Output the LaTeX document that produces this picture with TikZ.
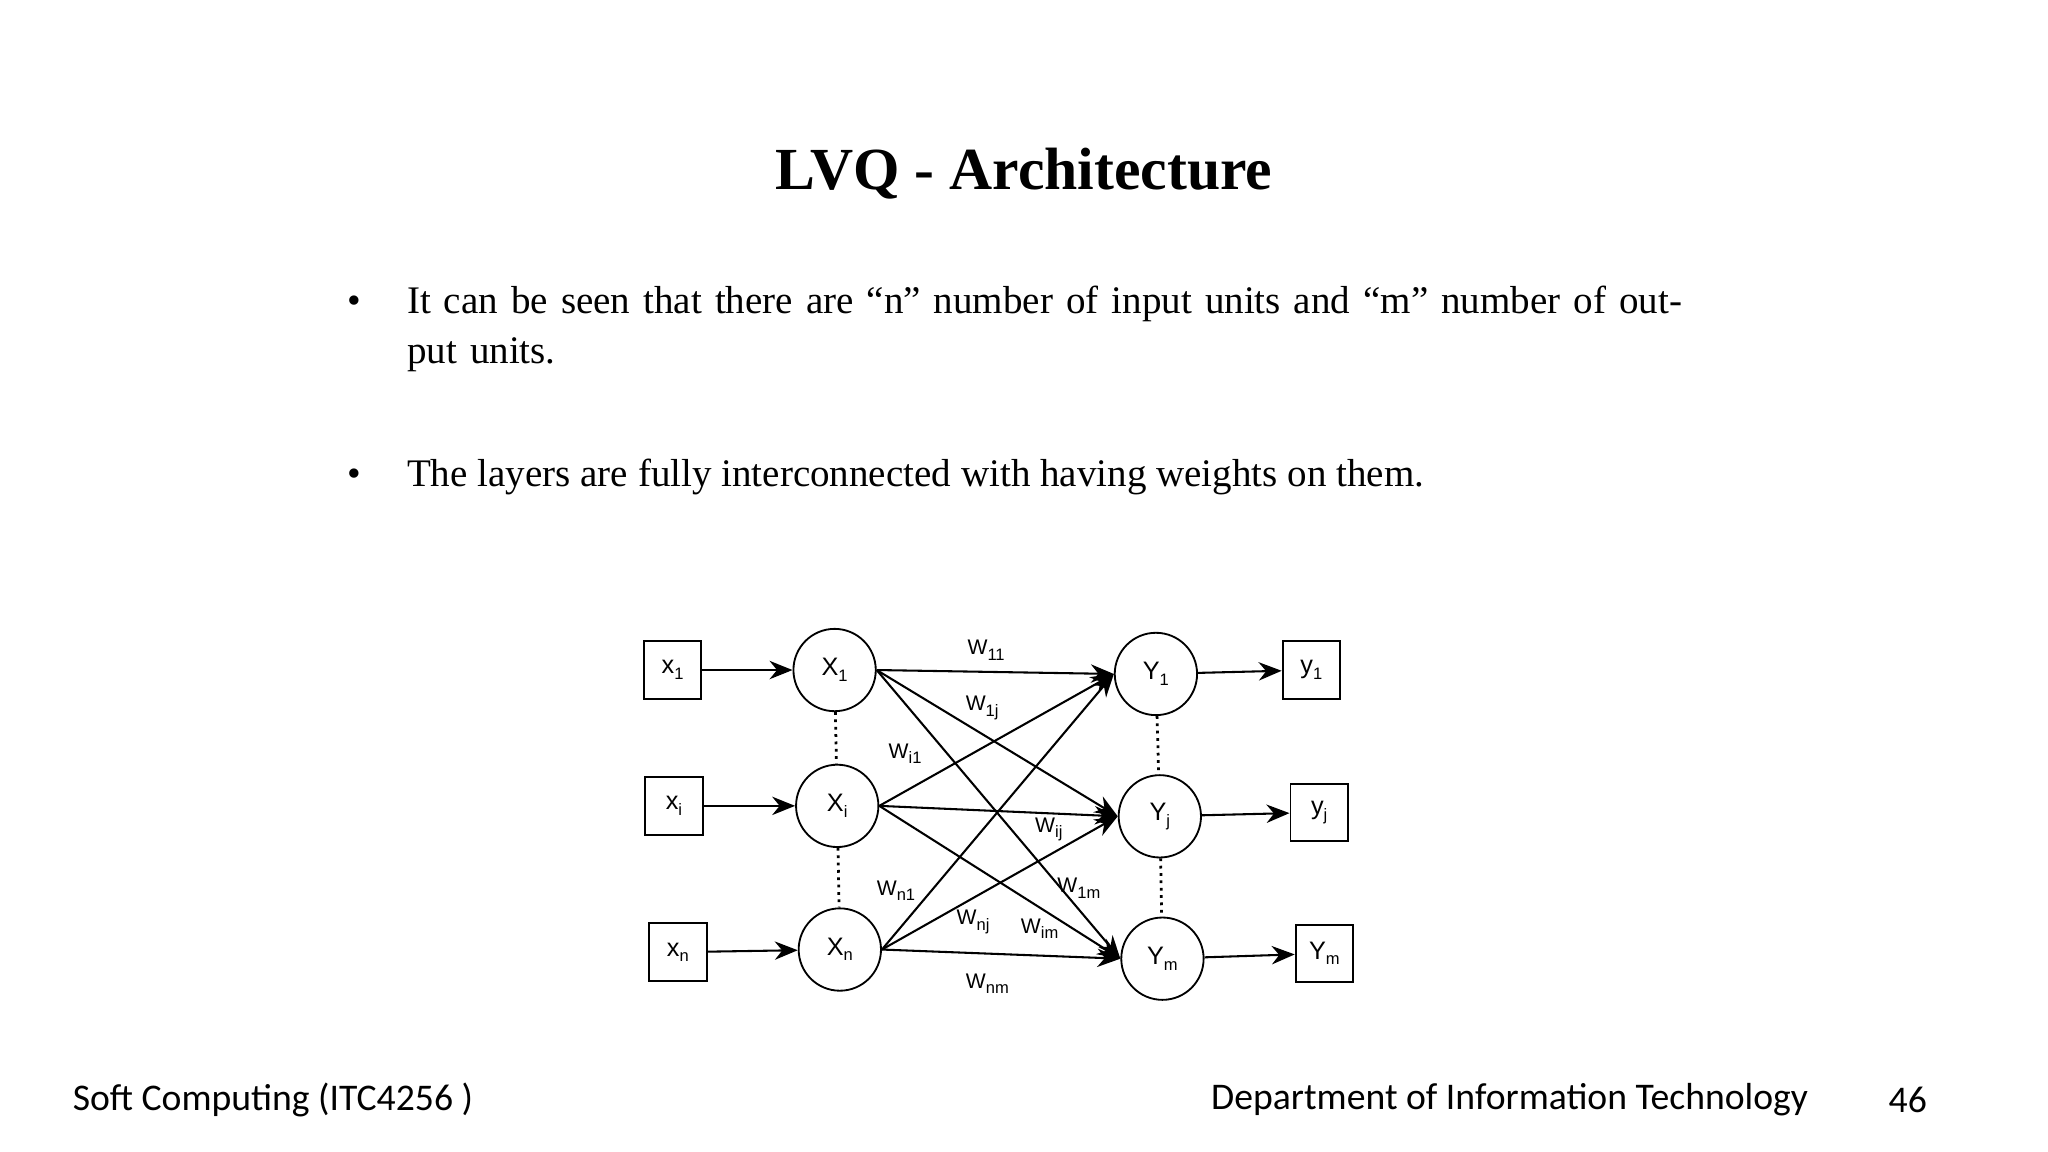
\documentclass[tikz,border=0pt]{standalone}
\usepackage{fontspec}
\setmainfont{Liberation Serif}
\newfontfamily\footfont{Carlito}
\newfontfamily\netfont{Liberation Sans}
\usetikzlibrary{arrows.meta}
\newcommand\lowix[1]{\raisebox{-1.2pt}{\fontsize{3.6}{4}\selectfont#1}}
\tikzset{
  unit/.style={draw, circle, minimum size=0.63cm, inner sep=0pt, font=\netfont\fontsize{5.5}{6}\selectfont},
  term/.style={draw, minimum size=0.44cm, inner sep=0pt, font=\netfont\fontsize{5.5}{6}\selectfont},
  wlab/.style={font=\netfont\fontsize{4.6}{5}\selectfont, inner sep=0pt},
  link/.style={-{Stealth[length=5pt,width=4pt]}, line width=0.45pt},
  dots/.style={densely dotted, line width=0.6pt}
}
\begin{document}
\begin{tikzpicture}[x=0.01cm, y=-0.01cm]
\useasboundingbox (0,0) rectangle (1568,882);
% title and text
\node[font=\bfseries\fontsize{13}{15}\selectfont] (title) at (784,133) {LVQ - Architecture};
\node[font=\fontsize{8.5}{11}\selectfont, anchor=north west, text width=9.9cm, align=left, inner sep=0pt] (b1) at (311,218) {It can be seen that there are “n” number of input units and “m” number of output units.};
\node[font=\fontsize{8.5}{11}\selectfont, anchor=north west, inner sep=0pt] (b2) at (311,351) {The layers are fully interconnected with having weights on them.};
\node[font=\fontsize{8.5}{11}\selectfont] (d1) at (271,233) {•};
\node[font=\fontsize{8.5}{11}\selectfont] (d2) at (271,366) {•};
% inputs
\node[term] (x1) at (515,513) {x\lowix{1}};
\node[term] (xi) at (516,617) {x\lowix{i}};
\node[term] (xn) at (519,729) {x\lowix{n}};
\node[unit] (X1) at (639,513) {X\lowix{1}};
\node[unit] (Xi) at (641,617) {X\lowix{i}};
\node[unit] (Xn) at (643,727) {X\lowix{n}};
% outputs
\node[unit] (Y1) at (885,516) {Y\lowix{1}};
\node[unit] (Yj) at (888,625) {Y\lowix{j}};
\node[unit] (Ym) at (890,734) {Y\lowix{m}};
\node[term] (y1) at (1004,513) {y\lowix{1}};
\node[term] (yj) at (1010,622) {y\lowix{j}};
\node[term] (ym) at (1014,730) {Y\lowix{m}};
% connections
\foreach \a/\b in {x1/X1, xi/Xi, xn/Xn, Y1/y1, Yj/yj, Ym/ym}
  \draw[link] (\a) -- (\b);
\foreach \a in {X1, Xi, Xn}
  \foreach \b in {Y1, Yj, Ym}
    \draw[link] (\a.east) -- (\b.west);
\draw[dots] (X1) -- (Xi);
\draw[dots] (Xi) -- (Xn);
\draw[dots] (Y1) -- (Yj);
\draw[dots] (Yj) -- (Ym);
% weights
\node[wlab] (w11) at (755,498) {W\lowix{11}};
\node[wlab] (w1j) at (752,542) {W\lowix{1j}};
\node[wlab] (wi1) at (693,577) {W\lowix{i1}};
\node[wlab] (wij) at (803,635) {W\lowix{ij}};
\node[wlab] (wn1) at (686,682) {W\lowix{n1}};
\node[wlab] (w1m) at (826,680) {W\lowix{1m}};
\node[wlab] (wnj) at (745,706) {W\lowix{nj}};
\node[wlab] (wim) at (796,711) {W\lowix{im}};
\node[wlab] (wnm) at (756,753) {W\lowix{nm}};
% footer
\node[font=\footfont\fontsize{8.2}{10}\selectfont, anchor=west, inner sep=0pt] (f1) at (55,842) {Soft Computing (ITC4256 )};
\node[font=\footfont\fontsize{8.2}{10}\selectfont, anchor=east, inner sep=0pt] (f2) at (1385,842) {Department of Information Technology};
\node[font=\footfont\fontsize{8.2}{10}\selectfont, anchor=east, inner sep=0pt] (f3) at (1476,842) {46};
\end{tikzpicture}
\end{document}
